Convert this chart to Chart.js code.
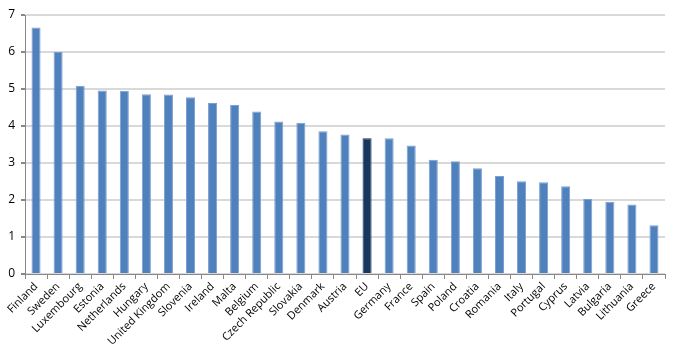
<!DOCTYPE html>
<html>
<head>
<meta charset="utf-8">
<script src="https://cdn.jsdelivr.net/npm/chart.js@4.4.0/dist/chart.umd.min.js"></script>
<style>
  html, body { margin: 0; padding: 0; background: #fff; }
  #wrap { width: 678px; height: 354px; }
</style>
</head>
<body>
<div id="wrap"><canvas id="chart"></canvas></div>
<script>
// Countries sorted by value, EU average in the middle
const countries = ['Finland', 'Sweden', 'Luxembourg', 'Estonia', 'Netherlands', 'Hungary',
    'United Kingdom', 'Slovenia', 'Ireland', 'Malta', 'Belgium', 'Czech Republic', 'Slovakia',
    'Denmark', 'Austria', 'EU', 'Germany', 'France', 'Spain', 'Poland', 'Croatia', 'Romania',
    'Italy', 'Portugal', 'Cyprus', 'Latvia', 'Bulgaria', 'Lithuania', 'Greece'];

const values = [6.66, 6.0, 5.09, 4.96, 4.95, 4.86, 4.85, 4.78, 4.62, 4.57, 4.39, 4.12, 4.09,
    3.86, 3.77, 3.67, 3.67, 3.47, 3.09, 3.05, 2.86, 2.65, 2.51, 2.48, 2.37, 2.03, 1.95, 1.88, 1.32];

const yTicks = [0, 1, 2, 3, 4, 5, 6, 7];

const colors = {
    bar: '#4F81BD',
    eu: '#17375E',
    edge: '#7A9FD0',
    grid: '#D9D9D9',
    axis: '#888888'
};

const barColors = countries.map(c => c === 'EU' ? colors.eu : colors.bar);
const edgeColors = countries.map(c => c === 'EU' ? colors.eu : colors.edge);

new Chart(document.getElementById('chart'), {
    type: 'bar',
    data: {
        labels: countries,
        datasets: [{
            data: values,
            backgroundColor: barColors,
            borderColor: edgeColors,
            borderWidth: 1,
            categoryPercentage: 1,
            barPercentage: 0.41
        }]
    },
    options: {
        responsive: true,
        maintainAspectRatio: false,
        animation: false,
        layout: { padding: { top: 15, right: 13, left: 0, bottom: 0 } },
        plugins: {
            legend: { display: false },
            tooltip: { enabled: false }
        },
        scales: {
            x: {
                grid: {
                    drawOnChartArea: false,
                    drawTicks: true,
                    tickLength: 5,
                    tickColor: colors.axis
                },
                border: { color: colors.axis, width: 1 },
                ticks: {
                    autoSkip: false,
                    maxRotation: 45,
                    minRotation: 45,
                    padding: 1,
                    color: '#000',
                    font: { family: 'Open Sans', size: 11 }
                },
                afterFit: scale => { scale.height = 80; }
            },
            y: {
                min: 0,
                max: 7,
                afterBuildTicks: scale => { scale.ticks = yTicks.map(v => ({ value: v })); },
                grid: {
                    color: colors.grid,
                    lineWidth: 2,
                    tickLength: 4,
                    tickColor: colors.axis
                },
                border: { color: colors.axis, width: 1 },
                ticks: {
                    padding: 6,
                    color: '#000',
                    font: { family: 'Open Sans', size: 12 }
                },
                afterFit: scale => { scale.width = 25; }
            }
        }
    }
});
</script>
</body>
</html>
